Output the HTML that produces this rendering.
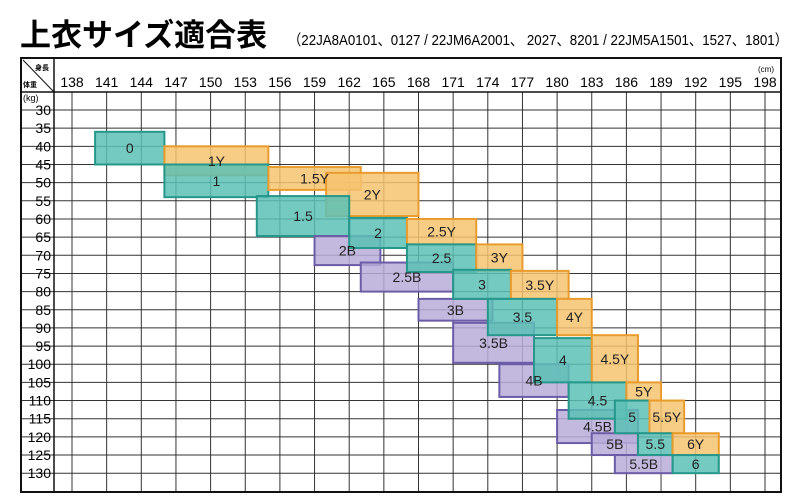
<!DOCTYPE html>
<html><head><meta charset="utf-8"><style>
body{margin:0;background:#fff;width:800px;height:504px;overflow:hidden}
svg{display:block}
text{font-family:"Liberation Sans","Noto Sans CJK JP",sans-serif}
</style></head><body>
<svg id="c" width="800" height="504">
<text x="20" y="46" font-size="31" font-weight="bold" font-family="'Noto Sans CJK JP',sans-serif">上衣サイズ適合表</text>
<text x="288" y="45" font-size="15" textLength="500" lengthAdjust="spacingAndGlyphs">（22JA8A0101、0127 / 22JM6A2001、 2027、8201 / 22JM5A1501、1527、1801）</text>
<g id="grid"></g>
<g id="boxes"></g>
<rect x="21" y="58" width="760" height="434" fill="none" stroke="#111" stroke-width="2"/>
<line x1="21" y1="92" x2="781" y2="92" stroke="#111" stroke-width="1.5"/>
<line x1="54" y1="58" x2="54" y2="492" stroke="#111" stroke-width="1.5"/>
<line x1="23" y1="60" x2="54" y2="92" stroke="#111" stroke-width="1"/>
<text x="35" y="70" font-size="7" font-weight="bold">身長</text>
<text x="23" y="87" font-size="7" font-weight="bold">体重</text>
<text x="23" y="101" font-size="9">(kg)</text>
<text x="758" y="72" font-size="8">(cm)</text>
</svg>
<script>
const heightTicks=[138,141,144,147,150,153,156,159,162,165,168,171,174,177,180,183,186,189,192,195,198];
const weightTicks=[30,35,40,45,50,55,60,65,70,75,80,85,90,95,100,105,110,115,120,125,130];
const sizeLabels=["0","1Y","1","1.5Y","2Y","1.5","2B","2","2.5Y","2.5B","2.5","3Y","3B","3","3.5Y","3.5B","3.5","4Y","4B","4","4.5Y","4.5B","4.5","5Y","5B","5","5.5Y","5.5B","5.5","6Y","6"];
const sizeTypes=["t","o","t","o","o","t","p","t","o","p","t","o","p","t","o","p","t","o","p","t","o","p","t","o","p","t","o","p","t","o","t"];
const cmMin=[140,146,146,155,160,154,159,162,167,163,167,173,168,171,176,171,174,180,175,178,183,180,181,186,183,185,188,185,187,190,190];
const cmMax=[146,155,155,163,168,162,164.7,167,173,171,173,177,174.4,176,181,178,180,183,181,183,187,187,186,189,187,188,191,190,190,194,194];
const kgMin=[36,40,45,45.7,47.3,53.7,64.7,59.7,60,72,67,67,82,74,74.3,88.6,82,82,100,92.8,92,112.6,105,105,119,110,110,125,119,119,125];
const kgMax=[45,48,54,52,59.2,64.7,72.7,68,67,80,74.6,74.3,88,82,82,99.6,92,92,109,105,105,121.7,115,110,125,119,119,130,125,125,130];
const xs=cm=>72+(cm-138)/3*34.65;
const ys=kg=>110+(kg-30)/5*18.16;
const NS="http://www.w3.org/2000/svg";
const grid=document.getElementById('grid');
function mk(tag,attrs,parent){const e=document.createElementNS(NS,tag);for(const k in attrs)e.setAttribute(k,attrs[k]);parent.appendChild(e);return e;}
heightTicks.forEach((h,i)=>{
  const x=xs(138+3*i);
  const l=mk('line',{x1:x,y1:92,x2:x,y2:492,stroke:'#333','stroke-width':1},grid);
  
  
  const t=mk('text',{x:x,y:87,'font-size':14,'text-anchor':'middle'},grid);
  t.textContent=h;
  
  
});
weightTicks.forEach((w,i)=>{
  const y=ys(30+5*i);
  const l=mk('line',{x1:21,y1:y,x2:781,y2:y,stroke:'#333','stroke-width':1},grid);
  
  
  const t=mk('text',{x:51,y:y+5,'font-size':14,'text-anchor':'end'},grid);
  t.textContent=w;
  
  
});
const fills={t:'#5cc0b5',o:'#f6c36f',p:'#b8add9'};
const strokes={t:'#25978b',o:'#e99c2e',p:'#6c5ca8'};
const bx=document.getElementById('boxes');
sizeLabels.forEach((lab,i)=>{
  const x1=xs(cmMin[i]),x2=xs(cmMax[i]),y1=ys(kgMin[i]),y2=ys(kgMax[i]);
  const r=mk('rect',{x:x1,y:y1,width:x2-x1,height:y2-y1,fill:fills[sizeTypes[i]],'fill-opacity':0.85,stroke:strokes[sizeTypes[i]],'stroke-width':2},bx);
  
  
});
sizeLabels.forEach((lab,i)=>{
  const x1=xs(cmMin[i]),x2=xs(cmMax[i]),y1=ys(kgMin[i]),y2=ys(kgMax[i]);
  const t=mk('text',{x:(x1+x2)/2,y:(y1+y2)/2+5,'font-size':14,'text-anchor':'middle',fill:'#222'},bx);
  t.textContent=lab;
  
  
});
</script>
</body></html>
